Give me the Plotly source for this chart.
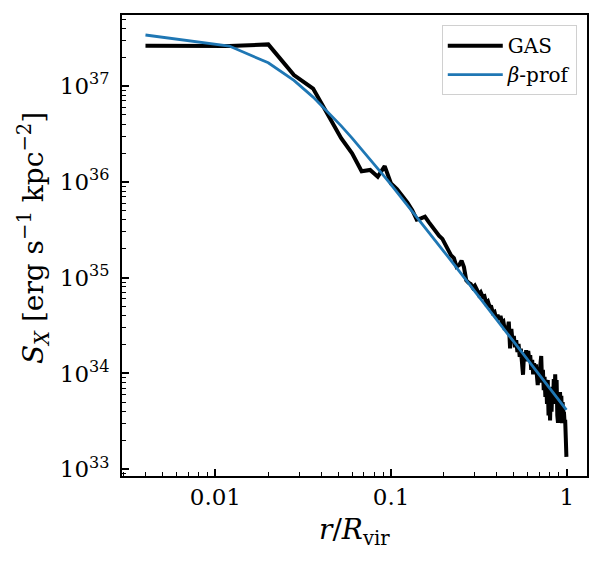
import plotly.graph_objects as go

# Radial bins r / R_vir
r_gas = [0.004, 0.012, 0.020, 0.028, 0.036, 0.044, 0.052, 0.060, 0.068, 0.076,
         0.084, 0.092, 0.100, 0.108, 0.116, 0.124, 0.132, 0.140, 0.148, 0.156,
         0.164, 0.172, 0.180, 0.188, 0.196, 0.204, 0.212, 0.220, 0.228, 0.236,
         0.244, 0.252, 0.260, 0.268, 0.276, 0.284, 0.292, 0.300, 0.308, 0.316,
         0.324, 0.332, 0.340, 0.348, 0.356, 0.364, 0.372, 0.380, 0.388, 0.396,
         0.404, 0.412, 0.420, 0.428, 0.436, 0.444, 0.452, 0.460, 0.468, 0.476,
         0.484, 0.492, 0.500, 0.508, 0.516, 0.524, 0.532, 0.540, 0.548, 0.556,
         0.564, 0.572, 0.580, 0.588, 0.596, 0.604, 0.612, 0.620, 0.628, 0.636,
         0.644, 0.652, 0.660, 0.668, 0.676, 0.684, 0.692, 0.700, 0.708, 0.716,
         0.724, 0.732, 0.740, 0.748, 0.756, 0.764, 0.772, 0.780, 0.788, 0.796,
         0.804, 0.812, 0.820, 0.828, 0.836, 0.844, 0.852, 0.860, 0.868, 0.876,
         0.884, 0.892, 0.900, 0.908, 0.916, 0.924, 0.932, 0.940, 0.948, 0.956,
         0.964, 0.972, 0.980, 0.988, 0.996]

# GAS surface brightness [erg s^-1 kpc^-2]
s_gas = [2.64e37, 2.62e37, 2.72e37, 1.30e37, 9.4e36, 4.87e36, 2.85e36, 1.98e36, 1.29e36, 1.33e36,
         1.13e36, 1.46e36, 9.6e35, 8.41e35, 7.14e35, 6.05e35, 5.06e35, 4.03e35, 4.16e35, 4.33e35,
         3.80e35, 3.37e35, 2.99e35, 2.73e35, 2.54e35, 2.23e35, 1.96e35, 1.70e35, 1.60e35, 1.30e35,
         1.35e35, 1.50e35, 1.29e35, 9.40e34, 8.87e34, 8.59e34, 7.85e34, 8.26e34, 7.50e34, 6.67e34,
         7.05e34, 6.35e34, 6.44e34, 5.43e34, 5.65e34, 5.00e34, 4.97e34, 4.31e34, 4.40e34, 3.82e34,
         4.08e34, 3.64e34, 3.99e34, 3.40e34, 3.49e34, 2.84e34, 3.13e34, 2.74e34, 3.47e34, 1.83e34,
         2.92e34, 2.13e34, 2.46e34, 1.88e34, 2.23e34, 1.67e34, 2.03e34, 1.49e34, 1.81e34, 1.32e34,
         9.70e33, 1.67e34, 1.34e34, 1.75e34, 1.35e34, 1.72e34, 1.39e34, 1.55e34, 1.09e34, 1.39e34,
         9.77e33, 1.28e34, 1.04e34, 1.24e34, 9.12e33, 7.55e33, 1.04e34, 8.02e33, 1.24e34, 1.52e34,
         8.11e33, 1.09e34, 6.71e33, 9.23e33, 5.69e33, 8.59e33, 4.82e33, 8.55e33, 3.65e33, 6.32e33,
         3.24e33, 7.10e33, 3.99e33, 7.26e33, 4.80e33, 8.73e33, 4.80e33, 9.79e33, 5.15e33, 8.55e33,
         3.66e33, 3.05e33, 5.56e33, 3.67e33, 6.40e33, 4.44e33, 5.86e33, 3.02e33, 5.02e33, 3.48e33,
         4.01e33, 3.13e33, 3.28e33, 2.13e33, 1.35e33]

# beta-profile fit
r_beta = [0.004, 0.012, 0.020, 0.028, 0.036, 0.044, 0.052, 0.060, 0.068, 0.076,
          0.084, 0.092, 0.100, 0.12, 0.14, 0.17, 0.2, 0.25, 0.3, 0.4,
          0.5, 0.6, 0.7, 0.8, 0.9, 0.996]
s_beta = [3.41e37, 2.614e37, 1.750e37, 1.144e37, 7.66e36, 5.33e36, 3.843e36, 2.865e36, 2.197e36, 1.725e36,
          1.383e36, 1.128e36, 9.35e35, 6.17e35, 4.315e35, 2.745e35, 1.875e35, 1.108e35, 7.20e34, 3.641e34,
          2.144e34, 1.389e34, 9.63e33, 7.01e33, 5.30e33, 4.16e33]

x_tickvals = [0.01, 0.1, 1]
x_ticktext = ["0.01", "0.1", "1"]
x_minor = [0.003, 0.004, 0.005, 0.006, 0.007, 0.008, 0.009,
           0.02, 0.03, 0.04, 0.05, 0.06, 0.07, 0.08, 0.09,
           0.2, 0.3, 0.4, 0.5, 0.6, 0.7, 0.8, 0.9]
y_tickvals = [1e33, 1e34, 1e35, 1e36, 1e37]
y_ticktext = ["10<sup>33</sup>", "10<sup>34</sup>", "10<sup>35</sup>", "10<sup>36</sup>", "10<sup>37</sup>"]
y_minor = [9e32,
           2e33, 3e33, 4e33, 5e33, 6e33, 7e33, 8e33, 9e33,
           2e34, 3e34, 4e34, 5e34, 6e34, 7e34, 8e34, 9e34,
           2e35, 3e35, 4e35, 5e35, 6e35, 7e35, 8e35, 9e35,
           2e36, 3e36, 4e36, 5e36, 6e36, 7e36, 8e36, 9e36,
           2e37, 3e37, 4e37, 5e37]

FONT = "DejaVu Serif"

fig = go.Figure()
fig.add_trace(go.Scatter(x=r_gas, y=s_gas, mode="lines", name="GAS",
                         line=dict(color="black", width=4)))
fig.add_trace(go.Scatter(x=r_beta, y=s_beta, mode="lines", name="<i>β</i>-prof",
                         line=dict(color="#1f77b4", width=2.8)))

axis_common = dict(
    showgrid=False, zeroline=False, automargin=False,
    showline=True, linecolor="black", linewidth=1.6, mirror=True,
    ticks="inside", ticklen=7, tickwidth=1.5, tickcolor="black",
    tickfont=dict(family=FONT, size=23, color="black"),
)

fig.update_xaxes(type="log", range=[-2.5316, 0.1155],
                 tickmode="array", tickvals=x_tickvals, ticktext=x_ticktext,
                 minor=dict(ticks="inside", ticklen=4, tickwidth=1.2, tickcolor="black",
                            tickmode="array", tickvals=x_minor),
                 ticklabelstandoff=0,
                 **axis_common)
fig.update_yaxes(type="log", range=[32.930, 37.7415],
                 tickmode="array", tickvals=y_tickvals, ticktext=y_ticktext,
                 minor=dict(ticks="inside", ticklen=4, tickwidth=1.2, tickcolor="black",
                            tickmode="array", tickvals=y_minor),
                 ticklabelstandoff=6,
                 **axis_common)

fig.update_layout(
    width=594, height=553,
    margin=dict(l=114, r=15, t=7, b=85),
    paper_bgcolor="white", plot_bgcolor="white",
    font=dict(family=FONT, color="black"),
    showlegend=True,
    legend=dict(x=0.978, y=0.978, xanchor="right", yanchor="top",
                bgcolor="rgba(255,255,255,0.8)", bordercolor="#d0d0d0", borderwidth=1,
                itemwidth=55,
                font=dict(family=FONT, size=20, color="black")),
    annotations=[
        dict(text="<i>r</i>/<i>R</i><sub>vir</sub>", xref="paper", yref="paper",
             x=0.5, y=-0.12, xanchor="center", yanchor="middle", showarrow=False,
             font=dict(family=FONT, size=28, color="black")),
        dict(text="<i>S</i><sub><i>X</i></sub> [erg s<sup>−1</sup> kpc<sup>−2</sup>]",
             xref="paper", yref="paper", x=-0.1914, y=0.516, xanchor="center", yanchor="middle",
             textangle=-90, showarrow=False,
             font=dict(family=FONT, size=28, color="black")),
    ],
)

fig.write_html("out.html")
